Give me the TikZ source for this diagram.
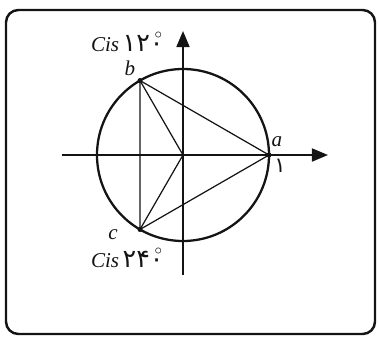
\documentclass[tikz,border=0pt]{standalone}
\usepackage{fontspec}
\setmainfont{Liberation Serif}
\newfontfamily\fadigits[Script=Arabic]{DejaVu Sans}
\usetikzlibrary{arrows.meta}
\definecolor{CxInk}{RGB}{20,20,20}
\newcommand{\cxdeg}{\kern-0.42em\raisebox{0.55ex}{$^\circ$}}
\tikzset{
  cx/frame/.style={draw=CxInk, line width=1.4pt, rounded corners=7pt},
  cx/circle/.style={draw=CxInk, line width=1.3pt},
  cx/axis/.style={-{Triangle[length=0.32cm,width=0.26cm]}, draw=CxInk, line width=1pt},
  cx/chord/.style={draw=CxInk, line width=0.7pt},
  cx/dot/.style={circle, fill=CxInk, inner sep=0pt, minimum size=0.1cm},
  cx/label/.style={font=\itshape\large, text=CxInk, inner sep=0pt},
  cx/cis/.style={font=\large, text=CxInk, inner sep=0pt}
}
\begin{document}
\begin{tikzpicture}[x=1cm,y=1cm]
  \useasboundingbox (-3.66,-3.64) rectangle (3.92,3.10);
  \draw[cx/frame] (-3.54,-3.58) rectangle (3.84,2.90);
  % axes
  \coordinate (xl) at (-2.42,0);
  \coordinate (xr) at (2.90,0);
  \coordinate (yb) at (0,-2.40);
  \coordinate (yt) at (0,2.48);
  \draw[cx/axis] (xl) -- (xr);
  \draw[cx/axis] (yb) -- (yt);
  % unit circle and the three roots
  \coordinate (O) at (0,0);
  \draw[cx/circle] (O) circle (1.72);
  \node[cx/dot] (a) at (0:1.72) {};
  \node[cx/dot] (b) at (120:1.72) {};
  \node[cx/dot] (c) at (240:1.72) {};
  \node[cx/dot,minimum size=0.07cm] (o) at (O) {};
  \draw[cx/chord] (a.center) -- (b.center) -- (c.center) -- cycle;
  \draw[cx/chord] (o.center) -- (b.center);
  \draw[cx/chord] (o.center) -- (c.center);
  % labels
  \node[cx/label] (la) at (1.88,0.26) {a};
  \node[cx/cis] (one) at (1.94,-0.22) {\fadigits ۱};
  \node[cx/label] (lb) at (-1.06,1.74) {b};
  \node[cx/label] (lc) at (-1.40,-1.60) {c};
  \node[cx/cis] (cisb) at (-1.12,2.26) {\textit{Cis}\,{\Large\fadigits ۱۲۰}\cxdeg};
  \node[cx/cis] (cisc) at (-1.12,-2.06) {\textit{Cis}\,{\Large\fadigits ۲۴۰}\cxdeg};
\end{tikzpicture}
\end{document}
